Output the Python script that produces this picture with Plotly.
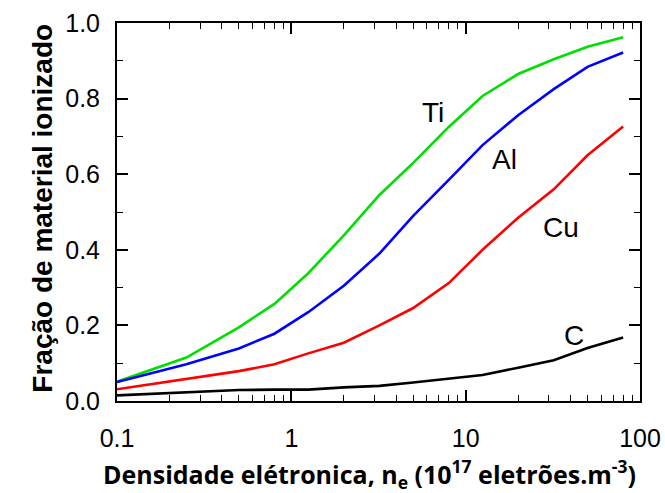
import math
import plotly.graph_objects as go

densidade = [0.1, 0.25, 0.5, 0.8, 1.25, 2, 3.2, 5, 8, 12.5, 20, 32, 50, 80]
ti = [0.051, 0.115, 0.195, 0.257, 0.338, 0.438, 0.545, 0.63, 0.725, 0.807, 0.865, 0.904, 0.937, 0.962]
al = [0.050, 0.097, 0.139, 0.178, 0.235, 0.305, 0.39, 0.49, 0.585, 0.677, 0.756, 0.825, 0.884, 0.922]
cu = [0.031, 0.058, 0.079, 0.097, 0.126, 0.154, 0.200, 0.246, 0.312, 0.400, 0.485, 0.560, 0.650, 0.726]
c = [0.015, 0.024, 0.029, 0.030, 0.030, 0.036, 0.040, 0.049, 0.060, 0.069, 0.088, 0.108, 0.140, 0.168]

series = [("Ti", ti, "#00e000"), ("Al", al, "#0000ff"), ("Cu", cu, "#ff0000"), ("C", c, "#000000")]
label_pos = {"Ti": (6.5, 0.762), "Al": (16.7, 0.638), "Cu": (35, 0.458), "C": (42, 0.172)}

fig = go.Figure()
for name, ys, col in series:
    fig.add_trace(go.Scatter(x=densidade, y=ys, mode="lines", name=name,
                             line=dict(color=col, width=2.6), showlegend=False))

for name, (lx, ly) in label_pos.items():
    fig.add_annotation(x=math.log10(lx), y=ly, xref="x", yref="y", text=name, showarrow=False,
                       font=dict(family="Liberation Sans, Arial", size=28, color="black"))

fig.add_annotation(x=-0.176, y=0.51, xref="paper", yref="paper", text="Fração de material ionizado",
                   showarrow=False, textangle=-90,
                   font=dict(family="Liberation Sans, Arial", size=28, color="black", weight="bold"))
fig.add_annotation(x=0.482, y=-0.194, xref="paper", yref="paper", yanchor="middle",
                   text="Densidade elétronica, n<sub>e</sub> (10<sup>17</sup> eletrões.m<sup>-3</sup>)",
                   showarrow=False,
                   font=dict(family="Open Sans, Noto Sans", size=25, color="black", weight="bold"))

axis_common = dict(showline=True, linecolor="black", linewidth=2, mirror="ticks",
                   ticks="inside", ticklen=11, tickwidth=1.5, tickcolor="black",
                   showgrid=False, zeroline=False, automargin=False,
                   tickfont=dict(family="Liberation Sans, Arial", size=25, color="black"))

fig.update_xaxes(type="log", range=[-1, 2], dtick=1,
                 ticklabelstandoff=14,
                 minor=dict(ticks="inside", ticklen=6, tickwidth=1.2, tickcolor="black", dtick="D1", showgrid=False),
                 **axis_common)
fig.update_yaxes(range=[0, 1.0], dtick=0.2, tickformat=".1f", ticklabelstandoff=10,
                 minor=dict(ticks="inside", ticklen=6, tickwidth=1.2, tickcolor="black", dtick=0.1, showgrid=False),
                 **axis_common)

fig.update_layout(width=665, height=493, margin=dict(l=117, r=25, t=23, b=92),
                  paper_bgcolor="white", plot_bgcolor="white")

fig.write_html("out.html", config={"displayModeBar": False},
               post_script="document.body.style.margin='0';document.body.style.overflow='hidden';")
